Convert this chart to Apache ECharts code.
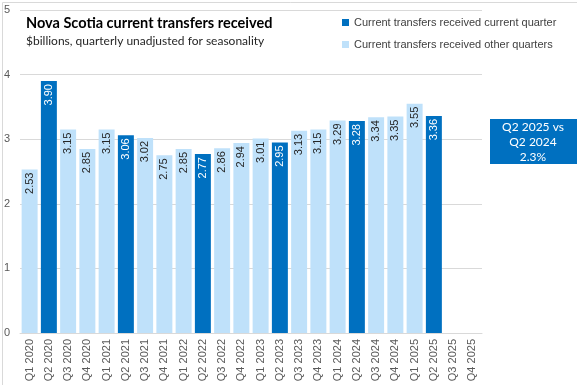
<!DOCTYPE html>
<html>
<head>
<meta charset="utf-8">
<script src="https://cdn.jsdelivr.net/npm/echarts@6/dist/echarts.min.js"></script>
<style>
html,body{margin:0;padding:0;background:#fff;}
#c{width:577px;height:385px;}
</style>
</head>
<body>
<div id="c"></div>
<script>
var categories = ["Q1 2020","Q2 2020","Q3 2020","Q4 2020","Q1 2021","Q2 2021","Q3 2021","Q4 2021","Q1 2022","Q2 2022","Q3 2022","Q4 2022","Q1 2023","Q2 2023","Q3 2023","Q4 2023","Q1 2024","Q2 2024","Q3 2024","Q4 2024","Q1 2025","Q2 2025","Q3 2025","Q4 2025"];
var currentQuarter = ['-',3.90,'-','-','-',3.06,'-','-','-',2.77,'-','-','-',2.95,'-','-','-',3.28,'-','-','-',3.36,'-','-'];
var otherQuarters = [2.53,'-',3.15,2.85,3.15,'-',3.02,2.75,2.85,'-',2.86,2.94,3.01,'-',3.13,3.15,3.29,'-',3.34,3.35,3.55,'-','-','-'];
var yTicks = [0,1,2,3,4,5];
var calloutLines = ["Q2 2025 vs","Q2 2024","2.3%"];

var DARK = '#0070C0', LIGHT = '#BFE1FA';
var FONT = 'Liberation Sans, Arial, sans-serif';
var chart = echarts.init(document.getElementById('c'));
function lbl(color){
  return {show:true, position:'insideTop', rotate:90, align:'right', verticalAlign:'middle', distance:3,
    color:color, fontSize:11, fontFamily:FONT, formatter:function(p){return p.value.toFixed(2);}};
}
chart.setOption({
  animation:false,
  textStyle:{fontFamily:FONT},
  title:[{text:'Nova Scotia current transfers received', left:21, top:11,
    textStyle:{fontSize:14.5, fontWeight:'bold', color:'#000', fontFamily:'Lato, sans-serif'}},
    {text:'$billions, quarterly unadjusted for seasonality', left:21, top:30,
    textStyle:{fontSize:12, fontWeight:'normal', color:'#262626', fontFamily:'Lato, sans-serif'}}],
  legend:{orient:'vertical', left:337, top:12, itemWidth:7, itemHeight:7, itemGap:11,
    icon:'rect', textStyle:{fontSize:11, color:'#404040', fontFamily:FONT},
    data:['Current transfers received current quarter','Current transfers received other quarters']},
  grid:{left:20, right:95, top:10, bottom:52},
  xAxis:{type:'category', data:categories,
    axisLine:{lineStyle:{color:'#D9D9D9'}}, axisTick:{show:false},
    axisLabel:{rotate:90, fontSize:11, color:'#595959', margin:6, interval:0, fontFamily:FONT}},
  yAxis:{type:'value', min:0, max:5, interval:1,
    axisLine:{show:false}, axisTick:{show:false},
    splitLine:{lineStyle:{color:'#D9D9D9'}},
    axisLabel:{fontSize:11, color:'#595959', align:'left', margin:16, fontFamily:FONT,
      formatter:function(v){return yTicks.indexOf(v)>=0?String(v):'';}}},
  series:[
    {name:'Current transfers received current quarter', type:'bar', stack:'a', data:currentQuarter,
      itemStyle:{color:DARK}, barCategoryGap:'17%', label:lbl('#FFFFFF')},
    {name:'Current transfers received other quarters', type:'bar', stack:'a', data:otherQuarters,
      itemStyle:{color:LIGHT}, barCategoryGap:'17%', label:lbl('#262626')}
  ],
  graphic:[
    {type:'rect', left:0, top:0, shape:{x:0.5,y:0.5,width:576,height:384}, style:{fill:'none', stroke:'#D9D9D9', lineWidth:1}, silent:true},
    {type:'rect', shape:{x:490,y:119,width:87,height:45}, style:{fill:DARK}, z:10},
    {type:'text', x:533, y:142, z:11, style:{text:calloutLines.join('\n'), fill:'#fff', fontSize:12, lineHeight:15,
      align:'center', verticalAlign:'middle', fontFamily:'Lato, sans-serif'}}
  ]
});
</script>
</body>
</html>
